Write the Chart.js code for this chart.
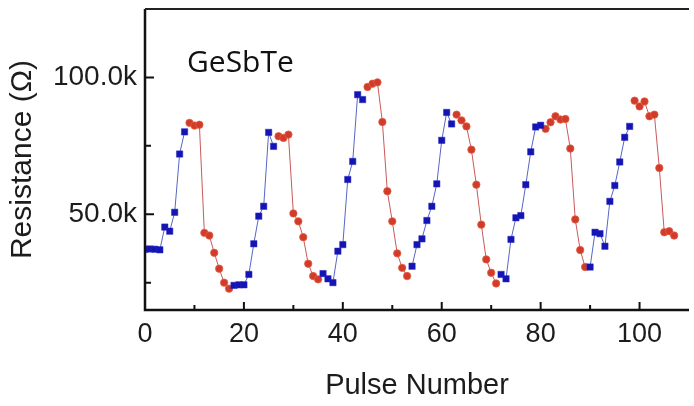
<!DOCTYPE html>
<html>
<head>
<meta charset="utf-8">
<script src="https://cdn.jsdelivr.net/npm/chart.js@4/dist/chart.umd.min.js"></script>
<style>
  html, body { margin: 0; padding: 0; background: #ffffff; }
  #wrap { width: 694px; height: 406px; position: relative; }
</style>
</head>
<body>
<div id="wrap"><canvas id="c"></canvas></div>
<script>
// Pulse numbers and resistance (kΩ) for the rising (blue) segments
const bluePulse = [0, 1, 2, 3, 4, 5, 6, 7, 8,
                   18, 19, 20, 21, 22, 23, 24, 25, 26,
                   36, 37, 38, 39, 40, 41, 42, 43, 44,
                   54, 55, 56, 57, 58, 59, 60, 61, 62,
                   72, 73, 74, 75, 76, 77, 78, 79, 80,
                   90, 91, 92, 93, 94, 95, 96, 97, 98];
const blueRes = [37.2, 37.3, 37.2, 37.0, 45.3, 43.8, 50.7, 72.0, 80.1,
                 24.0, 24.2, 24.2, 28.0, 39.2, 49.3, 52.9, 79.9, 74.8,
                 28.3, 26.4, 25.0, 36.5, 38.9, 62.7, 69.3, 93.7, 91.9,
                 31.0, 38.9, 41.0, 47.7, 52.9, 61.1, 77.0, 87.2, 83.0,
                 28.0, 26.4, 40.8, 48.7, 49.5, 60.8, 72.8, 81.9, 82.5,
                 30.7, 43.4, 42.9, 38.3, 54.7, 60.5, 69.1, 78.1, 82.1];

// Pulse numbers and resistance (kΩ) for the plateau + falling (red) segments
const redPulse = [9, 10, 11, 12, 13, 14, 15, 16, 17,
                  27, 28, 29, 30, 31, 32, 33, 34, 35,
                  45, 46, 47, 48, 49, 50, 51, 52, 53,
                  63, 64, 65, 66, 67, 68, 69, 70, 71,
                  81, 82, 83, 84, 85, 86, 87, 88, 89,
                  99, 100, 101, 102, 103, 104, 105, 106, 107];
const redRes = [83.4, 82.4, 82.7, 43.2, 42.2, 35.9, 30.1, 25.0, 22.8,
                78.5, 77.9, 79.1, 50.3, 47.4, 41.6, 31.9, 27.4, 26.2,
                96.5, 97.7, 98.2, 83.7, 58.4, 47.4, 35.7, 30.4, 27.4,
                86.4, 84.3, 82.1, 73.6, 60.8, 46.2, 33.5, 28.6, 24.7,
                81.2, 83.6, 85.8, 84.6, 84.8, 74.0, 48.1, 36.9, 30.7,
                91.5, 89.4, 91.2, 85.8, 86.4, 66.9, 43.4, 43.8, 42.2];

// Axis ticks
const xMajorTicks = [0, 20, 40, 60, 80, 100];
const xMinorTicks = [10, 30, 50, 70, 90];
const yTickValues = [25, 50, 75, 100];
const yTickText = ['', '50.0k', '', '100.0k'];

const sampleLabel = 'GeSbTe';

// Turn pulse/value arrays into points, breaking the line between separate runs
function toSegments(pulses, values) {
  const pts = [];
  for (let i = 0; i < pulses.length; i++) {
    if (i > 0 && pulses[i] - pulses[i - 1] > 1) {
      pts.push({ x: (pulses[i] + pulses[i - 1]) / 2, y: null });
    }
    pts.push({ x: pulses[i], y: values[i] });
  }
  return pts;
}

const FONT = "'Liberation Sans', Arial, Helvetica, sans-serif";
const TEXT = '#1c1c1c';

// Frame lines, inward tick marks and the sample label
const framePlugin = {
  id: 'frame',
  afterDraw(chart) {
    const { ctx, chartArea: a, scales: { x, y } } = chart;
    ctx.save();
    ctx.strokeStyle = '#111';
    ctx.lineCap = 'butt';
    // inward ticks
    ctx.lineWidth = 2;
    ctx.beginPath();
    xMajorTicks.forEach(v => { const px = x.getPixelForValue(v); ctx.moveTo(px, a.bottom); ctx.lineTo(px, a.bottom - 8); });
    xMinorTicks.forEach(v => { const px = x.getPixelForValue(v); ctx.moveTo(px, a.bottom); ctx.lineTo(px, a.bottom - 5); });
    yTickValues.forEach((v, i) => {
      const py = y.getPixelForValue(v);
      const len = yTickText[i] ? 9 : 6;
      ctx.moveTo(a.left, py); ctx.lineTo(a.left + len, py);
    });
    ctx.stroke();
    // axes
    ctx.lineWidth = 2.5;
    ctx.beginPath();
    ctx.moveTo(a.left, a.top);
    ctx.lineTo(a.left, a.bottom);
    ctx.lineTo(a.right, a.bottom);
    ctx.stroke();
    ctx.lineWidth = 2;
    ctx.strokeStyle = '#222';
    ctx.beginPath();
    ctx.moveTo(a.left, a.top);
    ctx.lineTo(a.right, a.top);
    ctx.stroke();
    // sample label
    ctx.fillStyle = '#111';
    ctx.font = "30px 'Open Sans', 'Noto Sans', sans-serif";
    ctx.textBaseline = 'alphabetic';
    ctx.textAlign = 'left';
    ctx.fillText(sampleLabel, 187, 72);
    ctx.restore();
  }
};

new Chart(document.getElementById('c'), {
  type: 'line',
  data: {
    datasets: [
      {
        label: 'rise',
        data: toSegments(bluePulse, blueRes),
        borderColor: '#5566c4',
        borderWidth: 1,
        backgroundColor: '#1414b4',
        pointBackgroundColor: '#1414b4',
        pointBorderColor: '#2a2ac0',
        pointBorderWidth: 0.5,
        pointStyle: 'rect',
        pointRadius: 4.5,
        spanGaps: false,
        tension: 0
      },
      {
        label: 'fall',
        data: toSegments(redPulse, redRes),
        borderColor: '#c85a5a',
        borderWidth: 1,
        backgroundColor: '#d23a2c',
        pointBackgroundColor: '#d23a2c',
        pointBorderColor: '#e0603e',
        pointBorderWidth: 0.8,
        pointStyle: 'circle',
        pointRadius: 3.7,
        spanGaps: false,
        tension: 0
      }
    ]
  },
  options: {
    responsive: true,
    maintainAspectRatio: false,
    animation: false,
    devicePixelRatio: 1,
    layout: { padding: { left: 0, right: 0, top: 9, bottom: 0 } },
    plugins: { legend: { display: false }, tooltip: { enabled: false } },
    elements: { point: { hoverRadius: 4 } },
    scales: {
      x: {
        type: 'linear',
        min: 0,
        max: 110,
        afterBuildTicks: s => { s.ticks = xMajorTicks.map(v => ({ value: v })); },
        afterFit: s => { s.height = 96; s.paddingLeft = 0; s.paddingRight = 0; },
        grid: { display: false, drawTicks: false },
        border: { display: false },
        ticks: {
          font: { family: FONT, size: 27 },
          color: TEXT,
          padding: 8,
          maxRotation: 0,
          autoSkip: false,
          callback: v => String(v)
        },
        title: {
          display: true,
          text: 'Pulse Number',
          font: { family: FONT, size: 29 },
          color: TEXT,
          padding: { top: 0, bottom: 3 }
        }
      },
      y: {
        type: 'linear',
        min: 15,
        max: 125,
        afterBuildTicks: s => { s.ticks = yTickValues.map(v => ({ value: v })); },
        afterFit: s => { s.width = 145; s.paddingTop = 0; s.paddingBottom = 0; },
        grid: { display: false, drawTicks: false },
        border: { display: false },
        ticks: {
          font: { family: FONT, size: 28 },
          color: TEXT,
          padding: 8,
          autoSkip: false,
          callback: (v) => { const i = yTickValues.indexOf(v); return i >= 0 ? yTickText[i] : ''; }
        },
        title: {
          display: true,
          text: 'Resistance (Ω)',
          font: { family: FONT, size: 30 },
          color: TEXT,
          padding: { top: 4.5, bottom: 0 }
        }
      }
    }
  },
  plugins: [framePlugin]
});
</script>
</body>
</html>
